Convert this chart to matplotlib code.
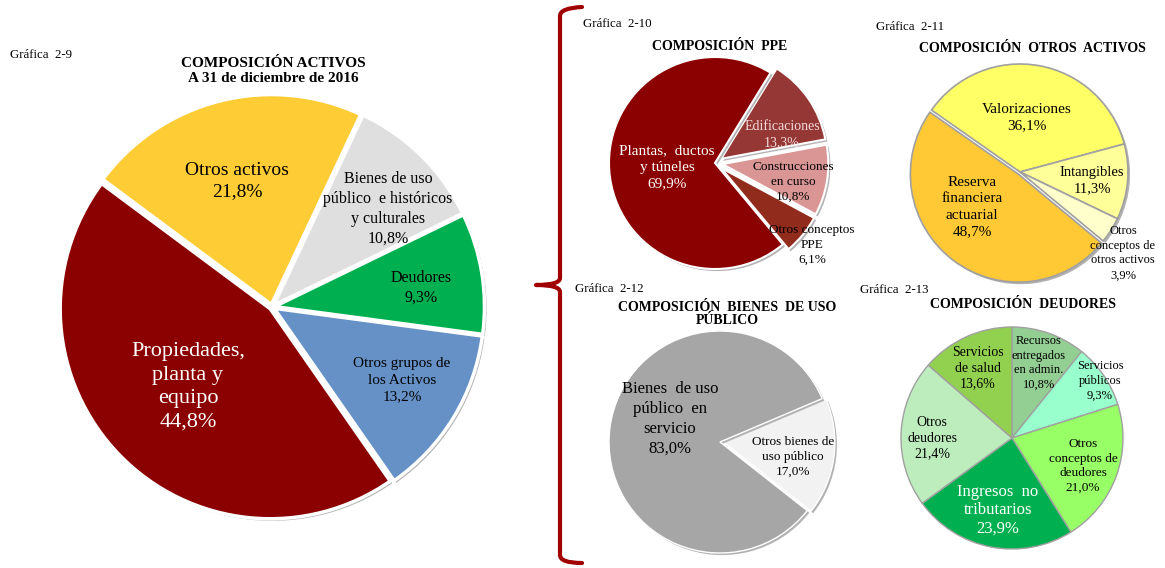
import matplotlib
matplotlib.use('Agg')
import matplotlib.pyplot as plt
import matplotlib.patheffects as pe
from matplotlib.path import Path
from matplotlib.patches import PathPatch

plt.rcParams['font.family'] = ['Liberation Serif', 'DejaVu Serif']

W, H = 1165, 568

# ---- data (clockwise order, as drawn) ----
act_names = ['Otros activos', 'Bienes de uso\npúblico  e históricos\ny culturales', 'Deudores',
             'Otros grupos de\nlos Activos', 'Propiedades,\nplanta y\nequipo']
act_vals = [21.8, 10.8, 9.3, 13.2, 44.8]
act_cols = ['#FECC35', '#DFDFDF', '#00B050', '#6591C7', '#8B0000']

ppe_names = ['Edificaciones', 'Construcciones\nen curso', 'Otros conceptos\nPPE', 'Plantas,  ductos\ny túneles']
ppe_vals = [13.3, 10.8, 6.1, 69.9]
ppe_cols = ['#953735', '#D99694', '#912C1C', '#8B0000']

oa_names = ['Valorizaciones', 'Intangibles', 'Otros\nconceptos de\notros activos', 'Reserva\nfinanciera\nactuarial']
oa_vals = [36.1, 11.3, 3.9, 48.7]
oa_cols = ['#FFFF66', '#FFFF99', '#FFFFCC', '#FFC935']

bu_names = ['Otros bienes de\nuso público', 'Bienes  de uso\npúblico  en\nservicio']
bu_vals = [17.0, 83.0]
bu_cols = ['#F2F2F2', '#A6A6A6']

de_names = ['Recursos\nentregados\nen admin.', 'Servicios\npúblicos', 'Otros\nconceptos de\ndeudores',
            'Ingresos  no\ntributarios', 'Otros\ndeudores', 'Servicios\nde salud']
de_vals = [10.8, 9.3, 21.0, 23.9, 21.4, 13.6]
de_cols = ['#93CF93', '#99FFCC', '#99FF66', '#00B050', '#BDEDBD', '#92D050']


def pct(v):
    return ('%.1f' % v).replace('.', ',') + '%'


fig = plt.figure(figsize=(W / 100, H / 100), dpi=100)


def pie_axes(cx, cy, r):
    ax = fig.add_axes([(cx - r) / W, 1 - (cy + r) / H, 2 * r / W, 2 * r / H])
    return ax


def draw_pie(ax, vals, cols, start, explode=None, ec='white', lw=2.0, shadow=True):
    wedges, _ = ax.pie(vals, colors=cols, startangle=start, counterclock=False,
                       explode=explode, radius=1.0,
                       wedgeprops=dict(edgecolor=ec, linewidth=lw))
    if shadow:
        for w in wedges:
            w.set_path_effects([pe.SimplePatchShadow(offset=(1.5, -1.5), shadow_rgbFace='#808080', alpha=0.6),
                                pe.Normal()])
    ax.set_xlim(-1, 1)
    ax.set_ylim(-1, 1)
    ax.axis('off')
    return wedges


# main pie
ax1 = pie_axes(272, 307, 210)
draw_pie(ax1, act_vals, act_cols, 143.4, explode=[0.012] * 5, lw=2.5)

# PPE
ax2 = pie_axes(715, 163, 106)
draw_pie(ax2, ppe_vals, ppe_cols, 58.4, explode=[0.07, 0.07, 0.07, 0], lw=1.5)

# otros activos
ax3 = pie_axes(1020, 172, 108)
draw_pie(ax3, oa_vals, oa_cols, 145, explode=[0, 0, 0, 0.025], ec='#A0A0A0', lw=1.2)

# bienes de uso publico
ax4 = pie_axes(720, 442, 111)
draw_pie(ax4, bu_vals, bu_cols, 23, explode=[0.035, 0], ec='white', lw=1.0)

# deudores
ax5 = pie_axes(1012, 438, 111)
draw_pie(ax5, de_vals, de_cols, 90, ec='#A0A0A0', lw=1.0, shadow=False)

# overlay for texts and bracket, in pixel coordinates
ov = fig.add_axes([0, 0, 1, 1])
ov.set_xlim(0, W)
ov.set_ylim(H, 0)
ov.axis('off')
ov.patch.set_alpha(0)


def lab(x, y, name, v, size, color='black', ls=1.32):
    ov.text(x, y, name + '\n' + pct(v), ha='center', va='center', fontsize=size,
            color=color, linespacing=ls)


# main labels
act_pos = [(237, 181), (388, 209), (421, 288), (402, 380), (188, 387)]
act_size = [14, 11.5, 11.5, 11, 16]
act_tc = ['black', 'black', 'black', 'black', 'white']
for (x, y), n, v, s, c in zip(act_pos, act_names, act_vals, act_size, act_tc):
    lab(x, y, n, v, s, c)

ppe_pos = [(782, 135), (793, 182), (812, 245), (667, 167)]
ppe_size = [10, 9.5, 9.5, 11]
ppe_tc = ['#F2DCDB', 'black', 'black', 'white']
for (x, y), n, v, s, c in zip(ppe_pos, ppe_names, ppe_vals, ppe_size, ppe_tc):
    lab(x, y, n, v, s, c)

oa_pos = [(1027, 118), (1092, 181), (1123, 253), (972, 207)]
oa_size = [11, 10.5, 9, 11]
for (x, y), n, v, s in zip(oa_pos, oa_names, oa_vals, oa_size):
    lab(x, y, n, v, s)

bu_pos = [(793, 457), (670, 419)]
bu_size = [9.5, 12]
for (x, y), n, v, s in zip(bu_pos, bu_names, bu_vals, bu_size):
    lab(x, y, n, v, s)

de_pos = [(1039, 363), (1100, 381), (1083, 466), (998, 510), (932, 438), (978, 368)]
de_size = [9, 9, 9.5, 12, 10, 10]
de_tc = ['black', 'black', 'black', 'white', 'black', 'black']
de_ls = [1.3, 1.3, 1.3, 1.2, 1.3, 1.3]
for (x, y), n, v, s, c, l in zip(de_pos, de_names, de_vals, de_size, de_tc, de_ls):
    lab(x, y, n, v, s, c, l)

# titles
bold = dict(ha='center', va='center', fontsize=10, fontweight='bold')
ov.text(273, 71, 'COMPOSICIÓN ACTIVOS\nA 31 de diciembre de 2016', linespacing=1.2,
        ha='center', va='center', fontsize=11, fontweight='bold')
ov.text(720, 46, 'COMPOSICIÓN  PPE', **bold)
ov.text(1032, 48, 'COMPOSICIÓN  OTROS  ACTIVOS', **bold)
ov.text(727, 314, 'COMPOSICIÓN  BIENES  DE USO\nPÚBLICO', linespacing=1.05, **bold)
ov.text(1023, 304, 'COMPOSICIÓN  DEUDORES', **bold)

small = dict(ha='left', va='center', fontsize=9.3)
ov.text(10, 55, 'Gráfica  2-9', **small)
ov.text(583, 24, 'Gráfica  2-10', **small)
ov.text(876, 27, 'Gráfica  2-11', **small)
ov.text(575, 289, 'Gráfica  2-12', **small)
ov.text(860, 290, 'Gráfica  2-13', **small)

# brace
verts = [(582, 7), (560, 8), (560, 16),
         (560, 278),
         (560, 285), (536, 285),
         (560, 285), (560, 292),
         (560, 555),
         (560, 563), (582, 563)]
codes = [Path.MOVETO, Path.CURVE3, Path.CURVE3,
         Path.LINETO,
         Path.CURVE3, Path.CURVE3,
         Path.CURVE3, Path.CURVE3,
         Path.LINETO,
         Path.CURVE3, Path.CURVE3]
ov.add_patch(PathPatch(Path(verts, codes), fill=False, edgecolor='#A00000', linewidth=3,
                       capstyle='round', joinstyle='round'))

fig.savefig('out.png', dpi=100)
